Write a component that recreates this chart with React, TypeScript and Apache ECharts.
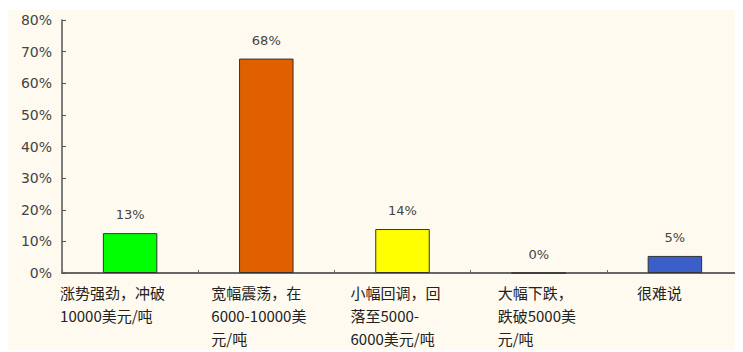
import React, { useEffect, useRef } from "react";
import * as echarts from "echarts";

const categories = [
  "涨势强劲，冲破\n10000美元/吨",
  "宽幅震荡，在\n6000-10000美\n元/吨",
  "小幅回调，回\n落至5000-\n6000美元/吨",
  "大幅下跌，\n跌破5000美\n元/吨",
  "很难说",
];
const values = [12.6, 67.8, 13.9, 0, 5.4];
const barColors = ["#00FF00", "#E06000", "#FFFF00", "#FFFFFF", "#3A5FC8"];
const yTicks = [0, 10, 20, 30, 40, 50, 60, 70, 80];

const labelBoxWidths = [140, 110, 104, 82, 76];

export default function App() {
  const ref = useRef<HTMLDivElement>(null);
  useEffect(() => {
    if (!ref.current) return;
    const chart = echarts.init(ref.current, undefined, { renderer: "svg" });
    const rich: Record<string, any> = {};
    labelBoxWidths.forEach((w, i) => {
      rich["c" + i] = {
        width: w,
        align: "left",
        fontSize: 15,
        lineHeight: 23,
        color: "#222",
        fontFamily: "Noto Sans CJK SC",
      };
    });
    chart.setOption({
      animation: false,
      backgroundColor: "#FEFAEF",
      grid: { left: 54, right: 0, top: 10, bottom: 79 },
      xAxis: {
        type: "category",
        data: categories,
        axisLine: { lineStyle: { color: "#666", width: 2 } },
        axisTick: { show: true, inside: true, length: 3, lineStyle: { color: "#666" } },
        axisLabel: {
          interval: 0,
          margin: 8,
          align: "center",
          formatter: (v: string, i: number) =>
            v
              .split("\n")
              .map((l) => `{c${i}|${l}}`)
              .join("\n"),
          rich,
        },
      },
      yAxis: {
        type: "value",
        min: yTicks[0],
        max: yTicks[yTicks.length - 1],
        interval: 10,
        axisLine: { show: true, lineStyle: { color: "#555", width: 1.5 } },
        axisTick: { show: true, inside: true, length: 4, lineStyle: { color: "#555" } },
        splitLine: { show: false },
        axisLabel: {
          margin: 10,
          formatter: "{value}%",
          fontSize: 14,
          color: "#444",
          fontFamily: "DejaVu Sans",
        },
      },
      series: [
        {
          type: "bar",
          data: values.map((v, i) => ({ value: v, itemStyle: { color: barColors[i] } })),
          barWidth: "40%",
          itemStyle: { borderColor: "#333", borderWidth: 1 },
          label: {
            show: true,
            position: "top",
            distance: 12,
            formatter: (p: any) => Math.round(p.value) + "%",
            fontSize: 13,
            color: "#444",
            fontFamily: "DejaVu Sans",
          },
        },
      ],
    });
    return () => chart.dispose();
  }, []);
  return (
    <div
      ref={ref}
      style={{ width: 735, height: 342, position: "relative", top: 2 }}
    />
  );
}
